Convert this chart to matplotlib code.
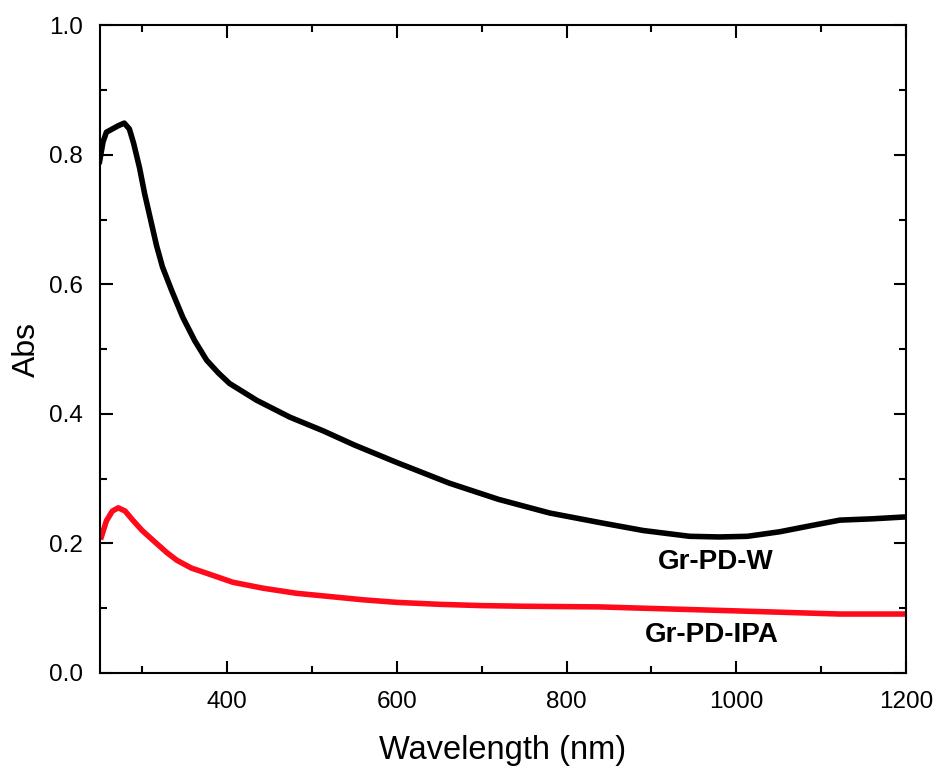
import matplotlib
matplotlib.use("Agg")
import matplotlib.pyplot as plt
from matplotlib.ticker import MultipleLocator

# Data
wl_w = [250, 254, 258, 265, 272, 279, 285, 290, 297, 303, 310, 317, 324, 335, 348, 362,
        376, 390, 403, 435, 474, 513, 550, 600, 662, 720, 780, 840, 890, 945, 980, 1013,
        1051, 1090, 1122, 1160, 1200]
abs_w = [0.79, 0.82, 0.835, 0.840, 0.845, 0.849, 0.84, 0.818, 0.78, 0.74, 0.70, 0.66,
         0.627, 0.59, 0.549, 0.513, 0.483, 0.463, 0.447, 0.421, 0.395, 0.374, 0.352,
         0.325, 0.293, 0.268, 0.247, 0.232, 0.220, 0.211, 0.210, 0.211, 0.218, 0.228,
         0.236, 0.238, 0.241]

wl_ipa = [252, 258, 265, 272, 280, 289, 300, 317, 329, 341, 358, 376, 407, 442, 482,
          529, 560, 600, 650, 700, 750, 839, 890, 996, 1122, 1200]
abs_ipa = [0.21, 0.235, 0.25, 0.255, 0.25, 0.236, 0.22, 0.20, 0.186, 0.174, 0.162,
           0.154, 0.14, 0.131, 0.123, 0.117, 0.113, 0.109, 0.106, 0.104, 0.103, 0.102,
           0.100, 0.096, 0.091, 0.091]

plt.rcParams['font.family'] = ['Liberation Sans', 'DejaVu Sans']

fig = plt.figure(figsize=(9.4, 7.67), dpi=100)
ax = fig.add_axes([0.106, 0.1226, 0.858, 0.8444])

ax.plot(wl_w, abs_w, color='black', lw=4, solid_joinstyle='round')
ax.plot(wl_ipa, abs_ipa, color='#ff0a1a', lw=4, solid_joinstyle='round')

ax.set_xlim(250, 1200)
ax.set_ylim(0.0, 1.0)
ax.xaxis.set_major_locator(MultipleLocator(200))
ax.xaxis.set_minor_locator(MultipleLocator(100))
ax.yaxis.set_major_locator(MultipleLocator(0.2))
ax.yaxis.set_minor_locator(MultipleLocator(0.1))
ax.set_xticks([400, 600, 800, 1000, 1200])
ax.set_yticks([0.0, 0.2, 0.4, 0.6, 0.8, 1.0])
ax.set_yticklabels(['0.0', '0.2', '0.4', '0.6', '0.8', '1.0'])

ax.tick_params(which='both', direction='in', top=True, right=True, width=1.5)
ax.tick_params(which='major', length=9, labelsize=17.5)
ax.tick_params(axis='x', which='major', pad=13)
ax.tick_params(axis='y', which='major', pad=12)
ax.tick_params(which='minor', length=5)
for s in ax.spines.values():
    s.set_linewidth(1.5)

ax.set_xlabel('Wavelength (nm)', fontsize=23.5, labelpad=16)
ax.set_ylabel('Abs', fontsize=23, labelpad=5)

ax.text(976, 0.171, 'Gr-PD-W', fontsize=20, fontweight='bold', ha='center', va='center')
ax.text(971, 0.059, 'Gr-PD-IPA', fontsize=20, fontweight='bold', ha='center', va='center')

fig.savefig('out.png', dpi=100)
